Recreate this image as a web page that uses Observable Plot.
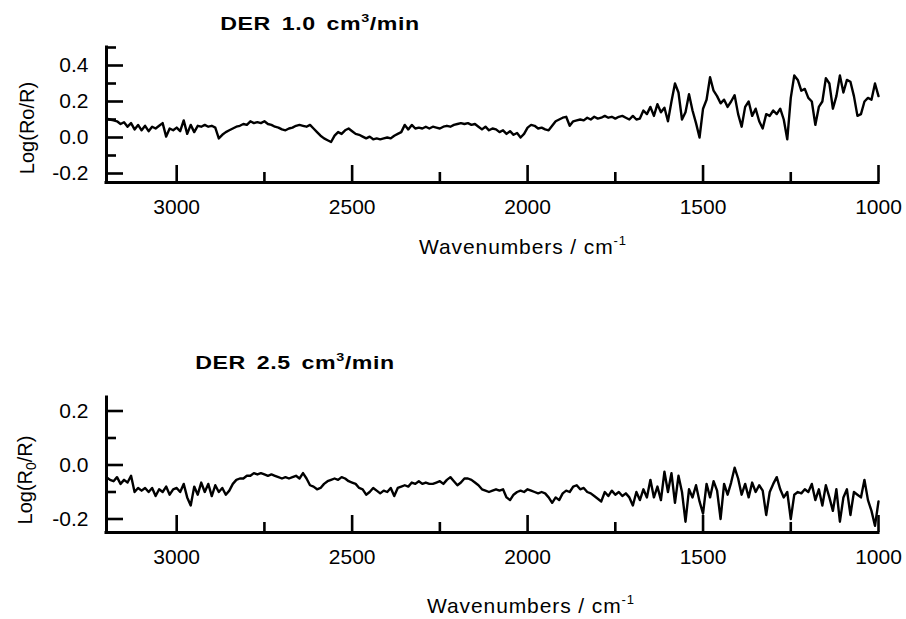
<!DOCTYPE html>
<html>
<head>
<meta charset="utf-8">
<script src="https://cdn.jsdelivr.net/npm/d3@7"></script>
<script src="https://cdn.jsdelivr.net/npm/@observablehq/plot@0.6"></script>
<style>
  body { margin: 0; background: #fff; }
  #root { position: relative; width: 906px; height: 619px; font-family: "Liberation Sans", Arial, Helvetica, sans-serif; color: #000; overflow: hidden; }
  .panel { position: absolute; left: 0; }
  .t { position: absolute; white-space: nowrap; line-height: 1; transform: translate(-50%, -50%); }
  .title { font-weight: bold; font-size: 19px; letter-spacing: 0.5px; word-spacing: 3px; transform: translate(-50%, -50%) scaleX(1.22); }
  .xl { font-size: 21px; letter-spacing: 0.9px; }
  .yl { font-size: 20px; transform: translate(-50%, -50%) rotate(-90deg); }
  sup { font-size: 0.62em; vertical-align: 0.62em; line-height: 0; }
  sub { font-size: 0.7em; vertical-align: -0.25em; line-height: 0; }
</style>
</head>
<body>
<div id="root">
  <div id="p1" class="panel" style="top:0px"></div>
  <div id="p2" class="panel" style="top:350px"></div>
  <div class="t title" style="left:320px; top:23px">DER 1.0 cm<sup>3</sup>/min</div>
  <div class="t title" style="left:295px; top:362px">DER 2.5 cm<sup>3</sup>/min</div>
  <div class="t xl" style="left:523px; top:246px">Wavenumbers / cm<sup>-1</sup></div>
  <div class="t xl" style="left:531px; top:605px">Wavenumbers / cm<sup>-1</sup></div>
  <div class="t yl" style="left:27px; top:128px">Log(Ro/R)</div>
  <div class="t yl" style="left:25px; top:480px">Log(R<sub>0</sub>/R)</div>
</div>
<script>
const wavenumbers = [
  3200,3190,3180,3170,3160,3150,3140,3130,3120,3110,
  3100,3090,3080,3070,3060,3050,3040,3030,3020,3010,
  3000,2990,2980,2970,2960,2950,2940,2930,2920,2910,
  2900,2890,2880,2870,2860,2850,2840,2830,2820,2810,
  2800,2790,2780,2770,2760,2750,2740,2730,2720,2710,
  2700,2690,2680,2670,2660,2650,2640,2630,2620,2610,
  2600,2590,2580,2570,2560,2550,2540,2530,2520,2510,
  2500,2490,2480,2470,2460,2450,2440,2430,2420,2410,
  2400,2390,2380,2370,2360,2350,2340,2330,2320,2310,
  2300,2290,2280,2270,2260,2250,2240,2230,2220,2210,
  2200,2190,2180,2170,2160,2150,2140,2130,2120,2110,
  2100,2090,2080,2070,2060,2050,2040,2030,2020,2010,
  2000,1990,1980,1970,1960,1950,1940,1930,1920,1910,
  1900,1890,1880,1870,1860,1850,1840,1830,1820,1810,
  1800,1790,1780,1770,1760,1750,1740,1730,1720,1710,
  1700,1690,1680,1670,1660,1650,1640,1630,1620,1610,
  1600,1590,1580,1570,1560,1550,1540,1530,1520,1510,
  1500,1490,1480,1470,1460,1450,1440,1430,1420,1410,
  1400,1390,1380,1370,1360,1350,1340,1330,1320,1310,
  1300,1290,1280,1270,1260,1250,1240,1230,1220,1210,
  1200,1190,1180,1170,1160,1150,1140,1130,1120,1110,
  1100,1090,1080,1070,1060,1050,1040,1030,1020,1010,
  1000
];

// DER 1.0 cm3/min : Log(Ro/R)
const der10 = [
  0.105,0.10,0.095,0.09,0.075,0.085,0.06,0.08,0.045,0.07,
  0.04,0.065,0.035,0.06,0.05,0.065,0.08,0.005,0.05,0.04,
  0.055,0.035,0.095,0.02,0.07,0.03,0.065,0.06,0.07,0.06,
  0.065,0.055,-0.005,0.015,0.03,0.04,0.05,0.06,0.065,0.075,
  0.07,0.09,0.08,0.085,0.08,0.09,0.075,0.07,0.06,0.055,
  0.045,0.04,0.05,0.055,0.065,0.07,0.065,0.06,0.07,0.05,
  0.03,0.01,-0.005,-0.015,-0.025,0.01,0.03,0.02,0.04,0.05,
  0.035,0.02,0.015,0.005,-0.005,0.005,-0.01,-0.005,-0.01,-0.005,
  0.0,-0.005,0.01,0.02,0.03,0.07,0.045,0.07,0.05,0.055,
  0.05,0.06,0.05,0.06,0.055,0.05,0.06,0.065,0.06,0.07,
  0.075,0.08,0.075,0.08,0.07,0.075,0.06,0.045,0.06,0.04,
  0.05,0.045,0.03,0.04,0.02,0.035,0.015,0.025,0.0,0.02,
  0.055,0.07,0.065,0.05,0.055,0.045,0.04,0.065,0.09,0.10,
  0.11,0.115,0.065,0.09,0.095,0.10,0.095,0.11,0.10,0.115,
  0.105,0.11,0.12,0.11,0.115,0.105,0.115,0.12,0.11,0.10,
  0.12,0.10,0.105,0.15,0.13,0.17,0.12,0.185,0.14,0.165,
  0.09,0.20,0.30,0.25,0.10,0.14,0.24,0.15,0.08,0.0,
  0.16,0.21,0.335,0.26,0.23,0.19,0.21,0.17,0.20,0.235,
  0.13,0.06,0.17,0.20,0.12,0.16,0.09,0.05,0.13,0.12,
  0.15,0.13,0.16,0.10,-0.01,0.22,0.345,0.32,0.26,0.27,
  0.22,0.20,0.07,0.17,0.20,0.33,0.30,0.16,0.23,0.345,
  0.25,0.32,0.31,0.23,0.12,0.13,0.20,0.22,0.21,0.30,
  0.23
];

// DER 2.5 cm3/min : Log(R0/R)
const der25 = [
  -0.045,-0.055,-0.06,-0.045,-0.07,-0.055,-0.065,-0.04,-0.10,-0.085,
  -0.095,-0.085,-0.10,-0.085,-0.115,-0.09,-0.10,-0.08,-0.11,-0.09,
  -0.085,-0.10,-0.07,-0.12,-0.15,-0.08,-0.11,-0.065,-0.10,-0.07,
  -0.115,-0.075,-0.10,-0.085,-0.11,-0.095,-0.07,-0.055,-0.05,-0.05,
  -0.04,-0.04,-0.03,-0.035,-0.03,-0.035,-0.04,-0.035,-0.04,-0.045,
  -0.05,-0.045,-0.05,-0.045,-0.04,-0.05,-0.03,-0.05,-0.075,-0.08,
  -0.09,-0.085,-0.07,-0.06,-0.055,-0.05,-0.055,-0.045,-0.05,-0.06,
  -0.065,-0.07,-0.085,-0.09,-0.11,-0.10,-0.085,-0.095,-0.105,-0.095,
  -0.10,-0.085,-0.115,-0.085,-0.08,-0.075,-0.08,-0.065,-0.07,-0.06,
  -0.07,-0.065,-0.07,-0.07,-0.065,-0.06,-0.07,-0.055,-0.045,-0.06,
  -0.075,-0.065,-0.05,-0.05,-0.055,-0.065,-0.075,-0.09,-0.095,-0.10,
  -0.095,-0.09,-0.095,-0.09,-0.12,-0.13,-0.11,-0.10,-0.095,-0.10,
  -0.09,-0.095,-0.10,-0.105,-0.10,-0.105,-0.12,-0.14,-0.12,-0.13,
  -0.105,-0.095,-0.10,-0.08,-0.075,-0.09,-0.085,-0.10,-0.105,-0.115,
  -0.125,-0.135,-0.10,-0.115,-0.095,-0.11,-0.10,-0.115,-0.105,-0.12,
  -0.15,-0.10,-0.13,-0.09,-0.12,-0.055,-0.12,-0.08,-0.13,-0.025,
  -0.10,-0.03,-0.14,-0.04,-0.10,-0.21,-0.09,-0.12,-0.075,-0.135,
  -0.18,-0.07,-0.12,-0.06,-0.095,-0.20,-0.07,-0.11,-0.065,-0.01,
  -0.05,-0.11,-0.07,-0.12,-0.065,-0.10,-0.075,-0.095,-0.185,-0.10,
  -0.07,-0.045,-0.09,-0.12,-0.10,-0.20,-0.11,-0.10,-0.105,-0.09,
  -0.10,-0.07,-0.13,-0.09,-0.15,-0.075,-0.12,-0.17,-0.09,-0.21,
  -0.12,-0.09,-0.185,-0.10,-0.11,-0.12,-0.055,-0.13,-0.17,-0.225,
  -0.135
];

const xMajorTicks = [3000, 2500, 2000, 1500, 1000];
const xMinorTicks = [2750, 2250, 1750, 1250];
const yMajorTop = [0.4, 0.2, 0.0, -0.2];
const yMinorTop = [0.5, 0.3, 0.1, -0.1];
const yMajorBottom = [0.2, 0.0, -0.2];
const yMinorBottom = [0.1, -0.1];
const xDomain = [3200, 1000];
const yDomainTop = [-0.25, 0.5];
const yDomainBottom = [-0.25, 0.25];

const FONT = '"Liberation Sans", Arial, Helvetica, sans-serif';

function panel(values, yDomain, yMajor, yMinor) {
  const data = wavenumbers.map((w, i) => ({w, v: values[i]}));
  const W = 906, H = 230, mL = 106, mR = 28, mT = 47, mB = 48;
  const innerW = W - mL - mR, innerH = H - mT - mB;
  return Plot.plot({
    width: W, height: H,
    marginLeft: mL, marginRight: mR, marginTop: mT, marginBottom: mB,
    x: {domain: xDomain},
    y: {domain: yDomain},
    style: {fontFamily: FONT, fontSize: "21px", color: "#000", background: "transparent", overflow: "visible"},
    marks: [
      Plot.ruleX(xMajorTicks, {x: d => d, insetTop: innerH - 17, stroke: "#000", strokeWidth: 2.6}),
      Plot.ruleX(xMinorTicks, {x: d => d, insetTop: innerH - 10, stroke: "#000", strokeWidth: 2.6}),
      Plot.ruleY(yMajor, {y: d => d, insetRight: innerW - 17, stroke: "#000", strokeWidth: 2.6}),
      Plot.ruleY(yMinor, {y: d => d, insetRight: innerW - 10, stroke: "#000", strokeWidth: 2.6}),
      Plot.ruleX([xDomain[0]], {stroke: "#000", strokeWidth: 3, strokeLinecap: "square"}),
      Plot.ruleY([yDomain[0]], {stroke: "#000", strokeWidth: 3, strokeLinecap: "square"}),
      Plot.line(data, {x: "w", y: "v", stroke: "#000", strokeWidth: 2.4, strokeLinejoin: "round"}),
      Plot.axisX(xMajorTicks, {tickSize: 0, tickPadding: 17, tickFormat: d => String(d), fontSize: 21, label: null}),
      Plot.axisY(yMajor, {tickSize: 0, tickPadding: 18, tickFormat: d => d.toFixed(1), fontSize: 21, label: null})
    ]
  });
}

document.getElementById("p1").appendChild(panel(der10, yDomainTop, yMajorTop, yMinorTop));
document.getElementById("p2").appendChild(panel(der25, yDomainBottom, yMajorBottom, yMinorBottom));
</script>
</body>
</html>
